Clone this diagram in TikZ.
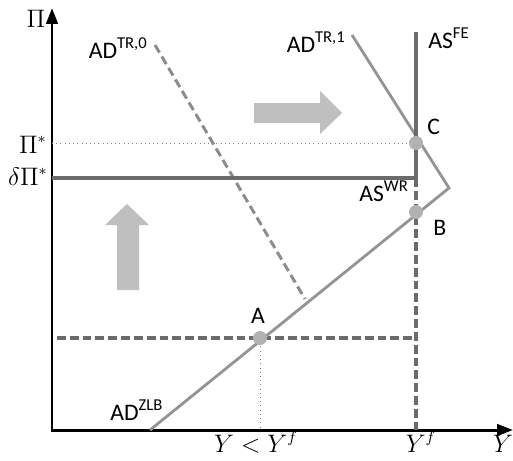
\documentclass[tikz,border=0pt]{standalone}
\usepackage{amsmath}
\usepackage{fontspec}
\setsansfont{Carlito}
\usepackage{tikz}
\usetikzlibrary{arrows.meta}

\begin{document}
\begin{tikzpicture}[
    x={(0.02cm,0cm)},
    y={(0cm,-0.02cm)},
    axis_line/.style={line width=1.7pt, black},
    ad_line/.style={line width=1.6pt, black!42},
    ad_dashed/.style={line width=1.7pt, black!45, dash pattern=on 5pt off 2.6pt},
    as_line/.style={line width=1.9pt, black!58},
    as_dashed/.style={line width=2.1pt, black!58, dash pattern=on 5pt off 2.3pt},
    guide_line/.style={line width=0.4pt, black!50, dotted},
    eq_dot/.style={circle, fill=black!30, minimum size=0.28cm, inner sep=0pt},
    shift_arrow/.style={fill=black!25, draw=none},
    curve_label/.style={font=\sffamily\fontsize{13.5}{15}\selectfont, inner sep=0pt},
    axis_label/.style={font=\fontsize{13.5}{15}\selectfont, inner sep=0pt}
]
  \useasboundingbox (0,0) rectangle (513,460);
  % Axes
  \coordinate (origin) at (52,430);
  \coordinate (ytop) at (52,8);
  \coordinate (xend) at (513,430);
  \draw[axis_line, {Triangle[length=9pt,width=6.5pt]}-{Triangle[length=9pt,width=6.5pt]}] (ytop) -- (origin) -- (xend);
  % Key points
  \coordinate (piStar) at (52,143);
  \coordinate (dpiStar) at (52,178);
  \coordinate (wrCorner) at (416,178);
  \coordinate (feTop) at (416,32);
  \coordinate (feFoot) at (416,430);
  \coordinate (kink) at (449,188);
  \coordinate (adOneTop) at (352,35);
  \coordinate (zlbFoot) at (150,430);
  \coordinate (adZeroTop) at (155,45);
  \coordinate (adZeroEnd) at (305,299);
  \coordinate (lowLeft) at (57,338);
  \coordinate (lowRight) at (416,338);
  \coordinate (aFoot) at (260,430);
  % Guide lines
  \draw[guide_line] (piStar) -- (416,143);
  \draw[guide_line] (260,338) -- (aFoot);
  % Dashed lines at the ZLB outcome
  \draw[as_dashed] (lowLeft) -- (lowRight);
  \draw[as_dashed] (wrCorner) -- (feFoot);
  % AD curves
  \draw[ad_dashed] (adZeroTop) -- (adZeroEnd);
  \draw[ad_line, line join=miter] (adOneTop) -- (kink) -- (zlbFoot);
  % AS curves
  \draw[as_line, line join=miter] (dpiStar) -- (wrCorner) -- (feTop);
  % Equilibrium points
  \node[eq_dot] (C) at (416,143) {};
  \node[eq_dot] (B) at (416,212) {};
  \node[eq_dot] (A) at (260,338) {};
  % Shift arrows
  \fill[shift_arrow] (254,103) -- (320,103) -- (320,91) -- (342,113) -- (320,134) -- (320,123) -- (254,123) -- cycle;
  \fill[shift_arrow] (117,290) -- (117,225) -- (105,225) -- (127,204) -- (149,225) -- (139,225) -- (139,290) -- cycle;
  % Labels
  \node[axis_label, anchor=base] (lblPi) at (36,27) {$\Pi$};
  \node[axis_label, anchor=base east] (lblPiStar) at (47,153) {$\Pi^*$};
  \node[axis_label, anchor=base east] (lblDPiStar) at (48,185) {$\delta\Pi^*$};
  \node[curve_label, anchor=base east] (lblADzero) at (148,58) {AD\textsuperscript{TR,0}};
  \node[curve_label, anchor=base east] (lblADone) at (346,52) {AD\textsuperscript{TR,1}};
  \node[curve_label, anchor=base west] (lblASfe) at (428,48) {AS\textsuperscript{FE}};
  \node[curve_label, anchor=base east] (lblASwr) at (409,201) {AS\textsuperscript{WR}};
  \node[curve_label, anchor=base west] (lblC) at (427,134) {C};
  \node[curve_label, anchor=base west] (lblB) at (433,235) {B};
  \node[curve_label, anchor=base] (lblA) at (258,323) {A};
  \node[curve_label, anchor=base west] (lblADzlb) at (110,420) {AD\textsuperscript{ZLB}};
  \node[axis_label, anchor=base] (lblYlow) at (256,452) {$Y<Y^f$};
  \node[axis_label, anchor=base] (lblYf) at (421,452) {$Y^f$};
  \node[axis_label, anchor=base] (lblY) at (503,452) {$Y$};
\end{tikzpicture}
\end{document}
